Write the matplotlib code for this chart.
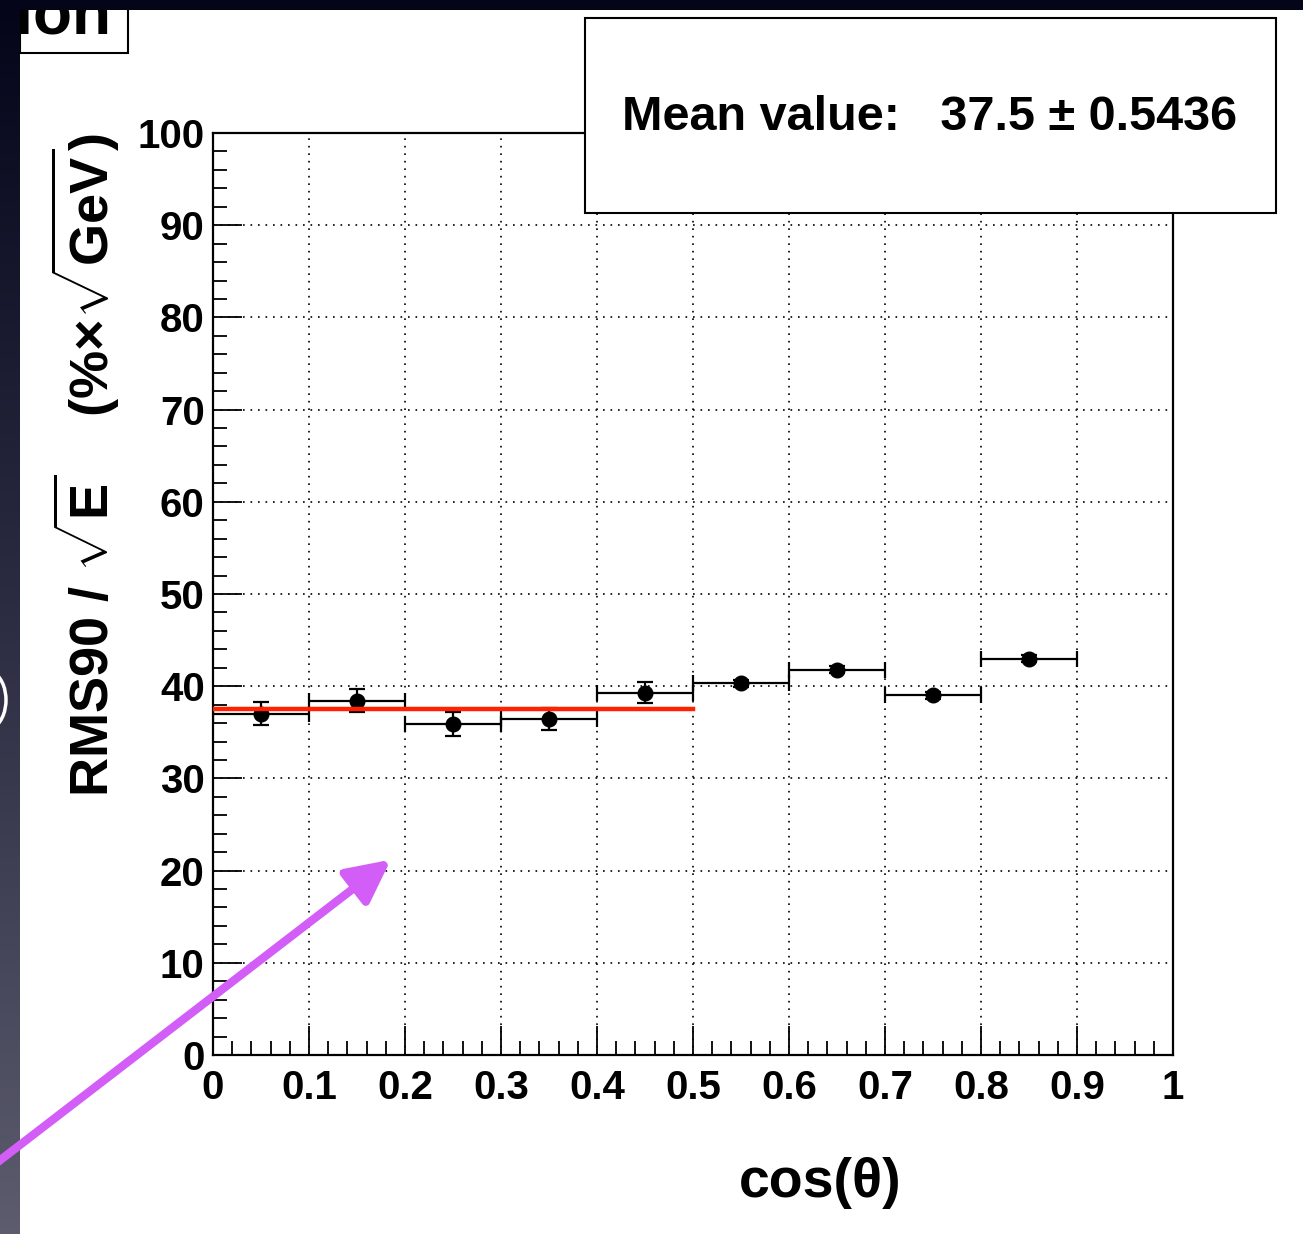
import numpy as np
import matplotlib
matplotlib.use("Agg")
import matplotlib.pyplot as plt
from matplotlib.patches import Rectangle, Arc, FancyArrowPatch
from matplotlib import font_manager

# bin edges in cos(theta) and measured RMS90/sqrt(E) values
bin_lo = [0.0, 0.1, 0.2, 0.3, 0.4, 0.5, 0.6, 0.7, 0.8]
bin_hi = [0.1, 0.2, 0.3, 0.4, 0.5, 0.6, 0.7, 0.8, 0.9]
rms90 = [37.0, 38.4, 35.9, 36.4, 39.3, 40.3, 41.8, 39.0, 43.0]
rms90_err = [1.25, 1.25, 1.3, 1.2, 1.15, 0.4, 0.4, 0.4, 0.4]

fit_range = [0.0, 0.5]
fit_mean = 37.5
fit_err = 0.5436

W, H = 1303, 1234


def fx(px):
    return px / W


def fy(py):
    return 1 - py / H


names = {f.name for f in font_manager.fontManager.ttflist}
bold_font = "Liberation Sans" if "Liberation Sans" in names else "DejaVu Sans"
plt.rcParams["font.family"] = bold_font
plt.rcParams["font.weight"] = "bold"
plt.rcParams["mathtext.fontset"] = "custom"
plt.rcParams["mathtext.rm"] = bold_font + ":bold"
plt.rcParams["mathtext.bf"] = bold_font + ":bold"

fig = plt.figure(figsize=(W / 100, H / 100), dpi=100, facecolor="white")

ax = fig.add_axes([fx(213), fy(1055), fx(1173) - fx(213), fy(133) - fy(1055)])
ax.set_xlim(0, 1)
ax.set_ylim(0, 100)

centers = [(a + b) / 2 for a, b in zip(bin_lo, bin_hi)]
half = [(b - a) / 2 for a, b in zip(bin_lo, bin_hi)]
ax.errorbar(centers, rms90, xerr=half, yerr=rms90_err, fmt="o", color="black",
            markersize=10.5, elinewidth=1.6, capsize=5.5, capthick=1.6, zorder=3)
ax.plot(fit_range, [fit_mean, fit_mean], color="#ff2200", lw=3.2, zorder=4)

ax.set_xticks(np.arange(0, 1.01, 0.1))
ax.set_xticks(np.arange(0, 1.001, 0.02), minor=True)
ax.set_yticks(np.arange(0, 101, 10))
ax.set_yticks(np.arange(0, 101, 2), minor=True)
ax.set_xticklabels(["0", "0.1", "0.2", "0.3", "0.4", "0.5", "0.6", "0.7", "0.8", "0.9", "1"])
ax.tick_params(which="major", direction="in", length=21, width=1.3, labelsize=29, pad=10)
ax.tick_params(which="minor", direction="in", length=10, width=1.3)
ax.tick_params(axis="y", which="major", pad=6)
for s in ax.spines.values():
    s.set_linewidth(1.6)
ax.grid(True, which="major", color="black", linestyle=(0, (1, 3.5)), linewidth=1.2)
ax.set_axisbelow(True)

fig.text(fx(85), fy(465), r"RMS90 / $\sqrt{\mathbf{E}}$    (%$\times\sqrt{\mathbf{GeV}}$)",
         rotation=90, ha="center", va="center", fontsize=39, fontweight="bold")
fig.text(fx(820), fy(1183), "cos(\u03b8)", ha="center", va="center", fontsize=40,
         fontweight="bold")

# stats box
fig.add_artist(Rectangle((fx(585), fy(213)), fx(1276) - fx(585), fy(18) - fy(213),
                         transform=fig.transFigure, facecolor="white", edgecolor="black",
                         lw=1.5, zorder=5))
fig.text(fx(930), fy(118), "Mean value:   %.1f \u00b1 %.4f" % (fit_mean, fit_err),
         ha="center", va="center", fontsize=35, fontweight="bold", zorder=6)

# clipped title box at top left
fig.add_artist(Rectangle((fx(20), fy(53)), fx(128) - fx(20), fy(-20) - fy(53),
                         transform=fig.transFigure, facecolor="white", edgecolor="black",
                         lw=1.5, zorder=5))
fig.text(fx(111), fy(34), "tion", ha="right", va="baseline", fontsize=46,
         fontweight="bold", zorder=6)

# dark slide edges, drawn over the clipped title
strip = fig.add_axes([0, 0, fx(20), 1], zorder=8)
grad = np.linspace(0, 1, 256).reshape(-1, 1)
strip.imshow(grad, aspect="auto", cmap=matplotlib.colors.LinearSegmentedColormap.from_list(
    "slide", ["#5c5c6e", "#2c2c42", "#05051a"]), origin="lower", extent=[0, 1, 0, 1])
strip.axis("off")
top = fig.add_axes([0, fy(10), 1, fy(0) - fy(10)], zorder=9)
top.set_facecolor("#05051a")
top.set_xticks([])
top.set_yticks([])
for s in top.spines.values():
    s.set_visible(False)
fig.add_artist(Arc((fx(-14), fy(700)), 2 * fx(20), 2 * (fy(0) - fy(30)), theta1=-70, theta2=70,
                   transform=fig.transFigure, color="white", lw=2.5, zorder=10))

# purple pointer arrow
fig.add_artist(FancyArrowPatch((fx(-10), fy(1168)), (fx(393), fy(858)),
                               transform=fig.transFigure, color="#d35df7", lw=6,
                               arrowstyle="-|>,head_length=1.3,head_width=0.65",
                               mutation_scale=20, zorder=11))

fig.savefig("out.png", dpi=100, facecolor="white")
